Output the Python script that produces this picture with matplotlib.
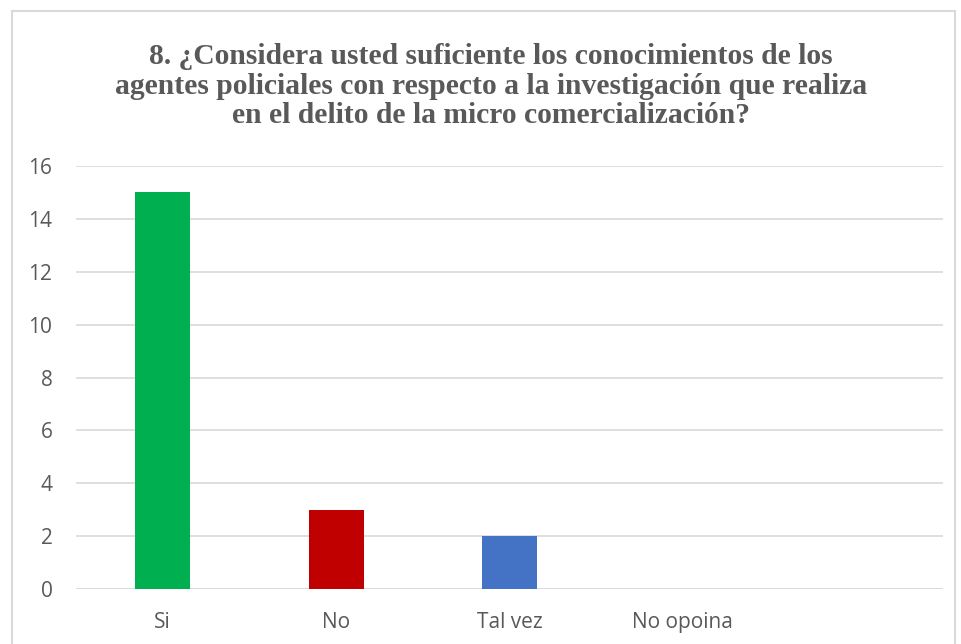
import matplotlib
matplotlib.use("Agg")
import matplotlib.pyplot as plt
from matplotlib.patches import Rectangle

categories = ["Si", "No", "Tal vez", "No opoina", ""]
values = [15, 3, 2, 0, 0]
colors = ["#00B050", "#C00000", "#4472C4", "#4472C4", "#4472C4"]
yticks = [0, 2, 4, 6, 8, 10, 12, 14, 16]
title = ("8. ¿Considera usted suficiente los conocimientos de los\n"
         "agentes policiales con respecto a la investigación que realiza\n"
         "en el delito de la micro comercialización?")

W, H = 961, 644
fig = plt.figure(figsize=(W / 100, H / 100), dpi=100)
ax = fig.add_axes([76 / W, 1 - 589 / H, (943 - 76) / W, (589 - 166) / H])

x = list(range(len(categories)))
ax.bar(x, values, width=0.317, color=colors, zorder=3)
ax.set_xlim(-0.5, len(categories) - 0.5)
ax.set_ylim(0, 16)
ax.set_yticks(yticks)
ax.set_xticks(x)
ax.set_xticklabels(categories)
ax.grid(axis="y", color="#D9D9D9", linewidth=1.2, zorder=0)
for s in ax.spines.values():
    s.set_visible(False)
ax.axhline(0, color="#D9D9D9", linewidth=1.2, zorder=2)
ax.tick_params(axis="both", length=0, labelsize=15, labelcolor="#595959",
               labelfontfamily="Open Sans")
ax.tick_params(axis="y", pad=17)
ax.tick_params(axis="x", pad=16.5)

fig.text(491 / W, 1 - 86 / H, title, ha="center", va="center",
         family="Liberation Serif", fontweight="bold", fontsize=21.3,
         color="#595959", linespacing=1.12)

fig.patches.append(Rectangle((12 / W, -0.05), (955 - 12) / W, 1 - 11 / H + 0.05,
                             transform=fig.transFigure, fill=False,
                             edgecolor="#D9D9D9", linewidth=1.5))

fig.savefig("out.png", dpi=100)
